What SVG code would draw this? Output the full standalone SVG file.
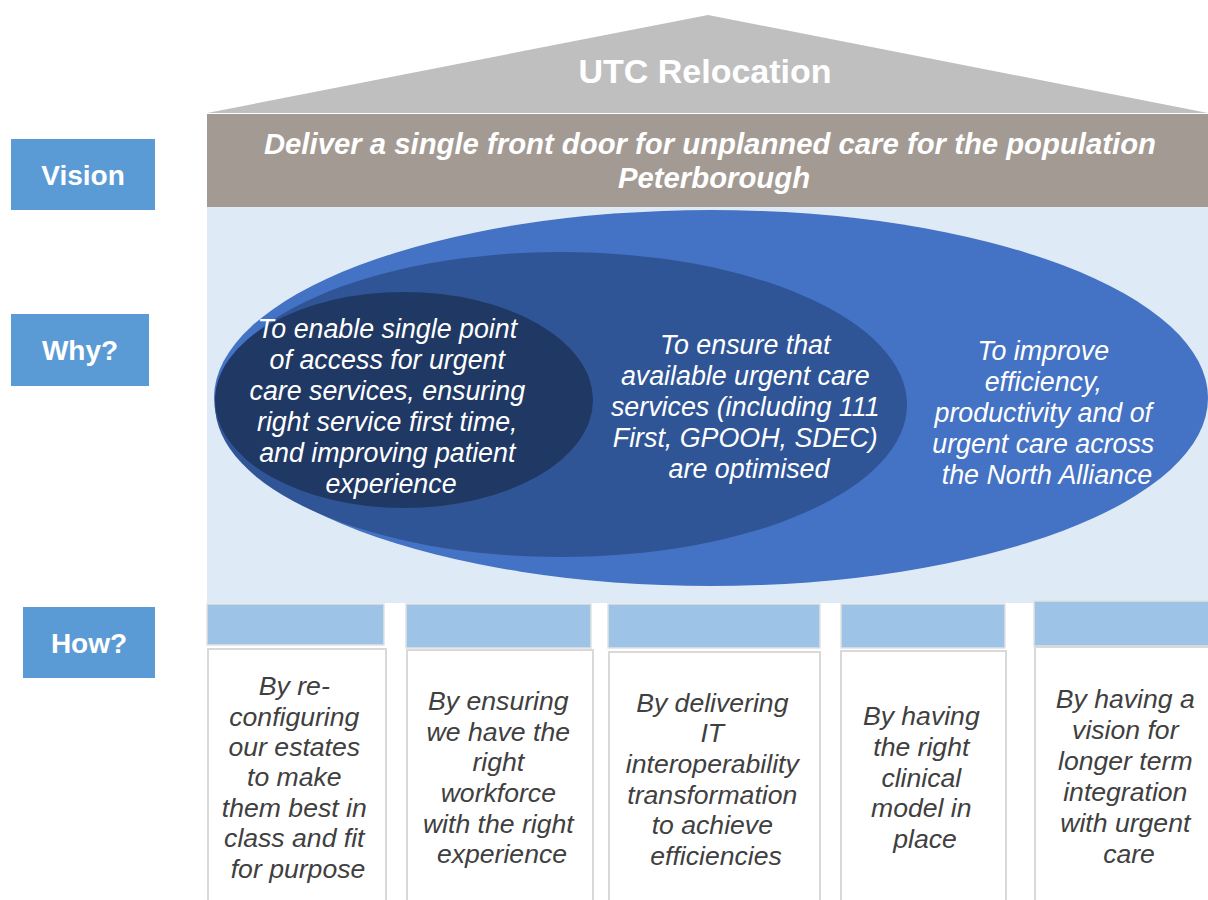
<svg xmlns="http://www.w3.org/2000/svg" width="1208" height="900" viewBox="0 0 1208 900">
  <style>
    .lbl { fill: #5B9BD5; }
    .lbltxt { font-family: "Liberation Sans", Arial, sans-serif; font-weight: bold; font-size: 28px; fill: #FFFFFF; text-anchor: middle; }
    .why { font-family: "Liberation Sans", Arial, sans-serif; font-style: italic; font-size: 26.8px; fill: #FFFFFF; text-anchor: middle; }
    .hdr { fill: #9DC3E6; stroke: #E2E2E2; stroke-width: 1.5; }
    .box { fill: #FFFFFF; stroke: #D9D9D9; stroke-width: 2; }
    .how { font-family: "Liberation Sans", Arial, sans-serif; font-style: italic; font-size: 26.6px; fill: #404040; text-anchor: middle; }
  </style>

  <rect x="0" y="0" width="1208" height="900" fill="#FFFFFF"/>

  <!-- roof -->
  <g id="roof">
    <polygon points="708,15 207,113 1208,113" fill="#BFBFBF"/>
    <text x="705" y="83" font-family="Liberation Sans, Arial, sans-serif" font-weight="bold" font-size="34" fill="#FFFFFF" text-anchor="middle">UTC Relocation</text>
  </g>

  <!-- vision band -->
  <g id="vision-band">
    <rect x="207" y="114" width="1001" height="93" fill="#A39A93"/>
    <text font-family="Liberation Sans, Arial, sans-serif" font-weight="bold" font-style="italic" font-size="29.3" fill="#FFFFFF" text-anchor="middle">
      <tspan x="714" y="154">Deliver a single front door for unplanned care for the population</tspan>
      <tspan x="714" y="188">Peterborough</tspan>
    </text>
  </g>

  <!-- why panel -->
  <g id="why-panel">
    <rect x="207" y="207" width="1001" height="396" fill="#DEEAF6"/>
  </g>

  <g id="why-outer">
    <ellipse cx="711" cy="398" rx="497" ry="188" fill="#4472C4"/>
    <text class="why">
      <tspan x="1047" y="360">To improve</tspan>
      <tspan x="1047" y="391">efficiency,</tspan>
      <tspan x="1047" y="422">productivity and of</tspan>
      <tspan x="1047" y="453">urgent care across</tspan>
      <tspan x="1047" y="484">the North Alliance</tspan>
    </text>
  </g>

  <g id="why-middle">
    <ellipse cx="561" cy="404.5" rx="346" ry="152.5" fill="#2F5597"/>
    <text class="why">
      <tspan x="749" y="354">To ensure that</tspan>
      <tspan x="749" y="385">available urgent care</tspan>
      <tspan x="749" y="416">services (including 111</tspan>
      <tspan x="749" y="447">First, GPOOH, SDEC)</tspan>
      <tspan x="749" y="478">are optimised</tspan>
    </text>
  </g>

  <g id="why-inner">
    <ellipse cx="404" cy="400" rx="189" ry="108" fill="#203864"/>
    <text class="why">
      <tspan x="391" y="338">To enable single point</tspan>
      <tspan x="391" y="369">of access for urgent</tspan>
      <tspan x="391" y="400">care services, ensuring</tspan>
      <tspan x="391" y="431">right service first time,</tspan>
      <tspan x="391" y="462">and improving patient</tspan>
      <tspan x="391" y="493">experience</tspan>
    </text>
  </g>

  <!-- row labels -->
  <g id="label-vision">
    <rect class="lbl" x="11" y="139" width="144" height="71"/>
    <text class="lbltxt" x="83" y="185">Vision</text>
  </g>
  <g id="label-why">
    <rect class="lbl" x="11" y="314" width="138" height="72"/>
    <text class="lbltxt" x="80" y="360">Why?</text>
  </g>
  <g id="label-how">
    <rect class="lbl" x="23" y="607" width="132" height="71"/>
    <text class="lbltxt" x="89" y="653">How?</text>
  </g>

  <!-- how columns -->
  <g id="how-1">
    <rect class="hdr" x="207" y="604" width="177" height="41"/>
    <rect class="box" x="208" y="649" width="178" height="260"/>
    <text class="how">
      <tspan x="298" y="695">By re-</tspan>
      <tspan x="298" y="726">configuring</tspan>
      <tspan x="298" y="756">our estates</tspan>
      <tspan x="298" y="786">to make</tspan>
      <tspan x="298" y="817">them best in</tspan>
      <tspan x="298" y="847">class and fit</tspan>
      <tspan x="298" y="878">for purpose</tspan>
    </text>
  </g>

  <g id="how-2">
    <rect class="hdr" x="406" y="604" width="185" height="44"/>
    <rect class="box" x="407" y="650" width="186" height="260"/>
    <text class="how">
      <tspan x="502" y="710">By ensuring</tspan>
      <tspan x="502" y="741">we have the</tspan>
      <tspan x="502" y="771">right</tspan>
      <tspan x="502" y="802">workforce</tspan>
      <tspan x="502" y="833">with the right</tspan>
      <tspan x="502" y="863">experience</tspan>
    </text>
  </g>

  <g id="how-3">
    <rect class="hdr" x="608" y="604" width="212" height="44"/>
    <rect class="box" x="609" y="652" width="211" height="260"/>
    <text class="how">
      <tspan x="716" y="712">By delivering</tspan>
      <tspan x="716" y="742">IT</tspan>
      <tspan x="716" y="773">interoperability</tspan>
      <tspan x="716" y="804">transformation</tspan>
      <tspan x="716" y="834">to achieve</tspan>
      <tspan x="716" y="865">efficiencies</tspan>
    </text>
  </g>

  <g id="how-4">
    <rect class="hdr" x="841" y="604" width="164" height="44"/>
    <rect class="box" x="841" y="651" width="165" height="260"/>
    <text class="how">
      <tspan x="925" y="725">By having</tspan>
      <tspan x="925" y="756">the right</tspan>
      <tspan x="925" y="787">clinical</tspan>
      <tspan x="925" y="817">model in</tspan>
      <tspan x="925" y="848">place</tspan>
    </text>
  </g>

  <g id="how-5">
    <rect class="hdr" x="1034" y="601" width="180" height="45"/>
    <rect class="box" x="1035" y="647" width="180" height="260"/>
    <text class="how">
      <tspan x="1129" y="708">By having a</tspan>
      <tspan x="1129" y="739">vision for</tspan>
      <tspan x="1129" y="770">longer term</tspan>
      <tspan x="1129" y="801">integration</tspan>
      <tspan x="1129" y="832">with urgent</tspan>
      <tspan x="1129" y="863">care</tspan>
    </text>
  </g>

  <!-- no connectors in this diagram -->
  <g id="connectors"/>
</svg>
